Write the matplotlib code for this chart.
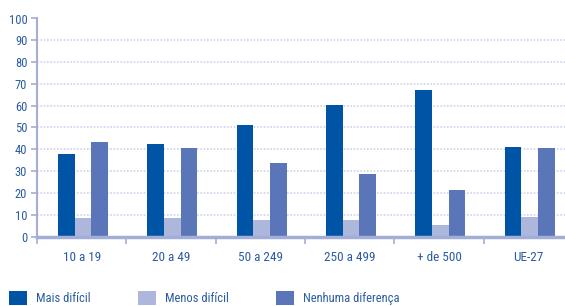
import numpy as np
import matplotlib.pyplot as plt
from matplotlib.patches import Patch

categories = ['10 a 19', '20 a 49', '50 a 249', '250 a 499', '+ de 500', 'UE-27']
mais_dificil = [38, 42.5, 51, 60.5, 67, 41]
menos_dificil = [8.5, 8.5, 7.5, 7.5, 5.5, 9]
nenhuma_diferenca = [43.5, 40.5, 33.5, 28.5, 21.5, 40.5]
series_names = ['Mais difícil', 'Menos difícil', 'Nenhuma diferença']

colors = ['#0054a6', '#adb7dc', '#5a76b9']
text_color = '#2a5ca3'
axis_color = '#a3aed6'

plt.rcParams['font.family'] = ['Roboto Condensed', 'Liberation Sans Narrow', 'DejaVu Sans']
plt.rcParams['font.stretch'] = 'condensed'

fig = plt.figure(figsize=(5.65, 3.06), dpi=100)
# axes runs off the right edge, as in the source
ax = fig.add_axes([37 / 565, 1 - 236.5 / 306, 536 / 565, 218 / 306])

x = np.arange(len(categories))
w = 0.187
for i, (vals, c) in enumerate(zip([mais_dificil, menos_dificil, nenhuma_diferenca], colors)):
    ax.bar(x + (i - 1) * w + 0.015, vals, width=w, color=c, zorder=3)

ax.set_xlim(-0.5, len(categories) - 0.5)
ax.set_ylim(0, 100)
ax.set_yticks(range(0, 101, 10))
ax.yaxis.grid(True, linestyle=(0, (1, 1)), color='#cdd3ea', linewidth=1.2, zorder=0)

# category boundary ticks, labels centred
ax.set_xticks(np.arange(len(categories) + 1) - 0.5)
ax.set_xticklabels([])
ax.set_xticks(x, minor=True)
ax.set_xticklabels(categories, minor=True)
ax.tick_params(axis='x', which='major', length=5, width=1.2, color=axis_color, direction='out')
ax.tick_params(axis='x', which='minor', length=0, pad=10.5, labelsize=9.5, labelcolor=text_color)
ax.tick_params(axis='y', length=4, width=1.2, color=axis_color, labelsize=9, labelcolor=text_color, pad=3)

for s in ['top', 'right']:
    ax.spines[s].set_visible(False)
ax.spines['left'].set_color(axis_color)
ax.spines['left'].set_linewidth(1.5)
ax.spines['bottom'].set_color(axis_color)
ax.spines['bottom'].set_linewidth(2.5)
ax.spines['bottom'].set_zorder(4)

handles = [Patch(facecolor=c, edgecolor='none') for c in colors]
fig.legend(handles, series_names, loc='upper left', bbox_to_anchor=(9 / 565, 1 - 291 / 306), ncol=3,
           frameon=False, handlelength=1.4, handleheight=1.4, handletextpad=0.75,
           columnspacing=3.8, fontsize=9, labelcolor=text_color, borderaxespad=0,
           borderpad=0)

fig.savefig('out.png', dpi=100)
